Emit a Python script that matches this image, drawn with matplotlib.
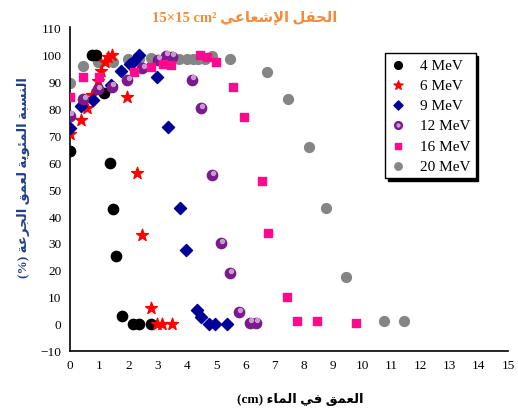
import matplotlib
matplotlib.use("Agg")
import matplotlib.pyplot as plt
from matplotlib.legend_handler import HandlerTuple

# depth (cm) and percentage depth dose (%) per beam energy
x_4 = [0, 0.75, 0.9, 1.17, 1.37, 1.46, 1.58, 1.77, 2.17, 2.36, 2.76]
y_4 = [64, 99.5, 99.7, 85.5, 59.5, 42.5, 25, 3, 0, 0, 0]

x_6 = [0, 0.37, 0.57, 0.76, 0.97, 1.08, 1.2, 1.31, 1.43, 1.97, 2.28, 2.48, 2.77, 2.97, 3.16, 3.48]
y_6 = [70.5, 75.7, 80, 84.8, 90, 93.8, 97, 98.8, 99.6, 84, 56, 33, 6, 0, 0, 0]

x_9 = [0, 0.37, 0.78, 1.39, 1.75, 2.05, 2.2, 2.36, 2.97, 3.34, 3.77, 3.96, 4.34, 4.49, 4.76, 4.97, 5.39]
y_9 = [72.8, 80.6, 83, 88.6, 93.8, 96.3, 97.5, 99.6, 91.6, 73.1, 42.8, 27.5, 5, 2.5, 0, 0, 0]

x_12 = [0, 0.46, 0.97, 1.45, 1.97, 2.48, 3.0, 3.29, 3.48, 4.17, 4.49, 4.87, 5.17, 5.48, 5.77, 6.16, 6.36]
y_12 = [77.2, 83.3, 87, 88, 90.4, 94.7, 98, 99.4, 99, 90.5, 80, 55.2, 30, 18.8, 4.3, 0.4, 0.4]

x_16 = [0, 0.46, 0.99, 2.19, 2.77, 3.2, 3.46, 4.45, 4.68, 4.99, 5.57, 5.96, 6.56, 6.79, 7.44, 7.76, 8.47, 9.78]
y_16 = [84.2, 91.4, 91.4, 93.4, 95.3, 96.5, 95.9, 99.6, 98.8, 97.2, 87.7, 76.8, 52.9, 33.7, 10.1, 0.9, 0.9, 0.4]

x_20 = [0, 0.46, 0.97, 1.46, 2.0, 2.36, 2.76, 3.29, 3.73, 4.02, 4.22, 4.39, 4.62, 4.87, 5.48,
        6.76, 7.48, 8.18, 8.76, 9.45, 10.75, 11.45]
y_20 = [89.3, 95.7, 97.2, 97.2, 98.1, 98.1, 98.4, 97.5, 98.2, 98.2, 98.2, 98.2, 98.2, 99.4, 98.1,
        93.2, 83.3, 65.7, 42.9, 17.5, 1.2, 0.9]

labels = ["4 MeV", "6 MeV", "9 MeV", "12 MeV", "16 MeV", "20 MeV"]

title_ar = "الحقل الإشعاعي"
xlabel_ar = "العمق في الماء"
ylabel_ar = "النسبة المئوية لعمق الجرعة"

# --- tiny Arabic shaper (no arabic_reshaper available) ---
FORMS = {
    "ا": (0xFE8D, 0xFE8E, None, None), "إ": (0xFE87, 0xFE88, None, None),
    "ل": (0xFEDD, 0xFEDE, 0xFEDF, 0xFEE0), "ح": (0xFEA1, 0xFEA2, 0xFEA3, 0xFEA4),
    "ق": (0xFED5, 0xFED6, 0xFED7, 0xFED8), "ش": (0xFEB5, 0xFEB6, 0xFEB7, 0xFEB8),
    "ع": (0xFEC9, 0xFECA, 0xFECB, 0xFECC), "ي": (0xFEF1, 0xFEF2, 0xFEF3, 0xFEF4),
    "ن": (0xFEE5, 0xFEE6, 0xFEE7, 0xFEE8), "س": (0xFEB1, 0xFEB2, 0xFEB3, 0xFEB4),
    "ب": (0xFE8F, 0xFE90, 0xFE91, 0xFE92), "ة": (0xFE93, 0xFE94, None, None),
    "م": (0xFEE1, 0xFEE2, 0xFEE3, 0xFEE4), "ئ": (0xFE89, 0xFE8A, 0xFE8B, 0xFE8C),
    "و": (0xFEED, 0xFEEE, None, None), "ج": (0xFE9D, 0xFE9E, 0xFE9F, 0xFEA0),
    "ر": (0xFEAD, 0xFEAE, None, None), "ء": (0xFE80, None, None, None),
    "ف": (0xFED1, 0xFED2, 0xFED3, 0xFED4),
    "LA": (0xFEFB, 0xFEFC, None, None), "LI": (0xFEF9, 0xFEFA, None, None),
}


def shape(text):
    out_words = []
    for word in text.split(" "):
        units = []
        i = 0
        while i < len(word):
            if word[i] == "ل" and i + 1 < len(word) and word[i + 1] in "اإ":
                units.append("LA" if word[i + 1] == "ا" else "LI")
                i += 2
            else:
                units.append(word[i])
                i += 1
        chars = []
        for k, u in enumerate(units):
            f = FORMS[u]
            prev_joins = k > 0 and FORMS[units[k - 1]][2] is not None
            next_joins = k + 1 < len(units) and f[2] is not None and FORMS[units[k + 1]][1] is not None
            if prev_joins and f[1] is not None:
                code = f[3] if next_joins else f[1]
            else:
                code = f[2] if next_joins else f[0]
            chars.append(chr(code))
        out_words.append("".join(chars)[::-1])
    return " ".join(out_words[::-1])


fig = plt.figure(figsize=(5.18, 4.14), dpi=100)
ax = fig.add_axes([0.135, 0.150, 0.846, 0.782])

h4 = ax.scatter(x_4, y_4, marker="o", s=55, color="black", zorder=3)
h6 = ax.scatter(x_6, y_6, marker="*", s=80, color="red", zorder=3)
h9 = ax.scatter(x_9, y_9, marker="D", s=38, color="#000099", zorder=3)
h12 = ax.scatter(x_12, y_12, marker="o", s=55, color="#7B1A8C", zorder=3)
h12b = ax.scatter([v + 0.04 for v in x_12], [v + 0.9 for v in y_12], marker="o", s=8,
                  color="#C89BD0", zorder=4)
h16 = ax.scatter(x_16, y_16, marker="s", s=34, color="#FF0A8C", zorder=3)
h20 = ax.scatter(x_20, y_20, marker="o", s=50, color="#858585", zorder=2)

ax.set_xlim(0, 15)
ax.set_ylim(-10, 110)
ax.set_xticks(range(0, 16))
ax.set_yticks(range(-10, 111, 10))
ax.tick_params(length=0, labelsize=9.5, pad=6)
for lbl in ax.get_xticklabels() + ax.get_yticklabels():
    lbl.set_fontfamily("Liberation Serif")
for side in ["top", "right"]:
    ax.spines[side].set_visible(False)
ax.spines["left"].set_linewidth(1.2)
ax.spines["bottom"].set_linewidth(1.2)

leg = ax.legend([h4, h6, h9, (h12, h12b), h16, h20], labels,
                handler_map={tuple: HandlerTuple(ndivide=1, pad=0)},
                loc="upper left", bbox_to_anchor=(0.72, 0.92),
                prop={"family": "Liberation Serif", "size": 11},
                frameon=True, fancybox=False, shadow={"color": "black", "alpha": 1},
                handlelength=1.0, handletextpad=0.9, labelspacing=0.42,
                borderpad=0.35, borderaxespad=0, markerscale=0.75)
leg.get_frame().set_edgecolor("black")
leg.get_frame().set_linewidth(1.0)

fig.text(0.473, 0.958, "15×15 cm² " + shape(title_ar), ha="center", va="center",
         color="#F58B3A", fontsize=10.5, fontweight="bold",
         family=["Liberation Serif", "DejaVu Sans"])
fig.text(0.58, 0.035, "(cm) " + shape(xlabel_ar), ha="center", va="center",
         color="black", fontsize=9.5, fontweight="bold",
         family=["Liberation Serif", "DejaVu Sans"])
fig.text(0.045, 0.57, "(%) " + shape(ylabel_ar), ha="center", va="center",
         rotation=90, color="#1F3F8F", fontsize=9.5, fontweight="bold",
         family=["Liberation Serif", "DejaVu Sans"])

fig.savefig("out.png", dpi=100)
